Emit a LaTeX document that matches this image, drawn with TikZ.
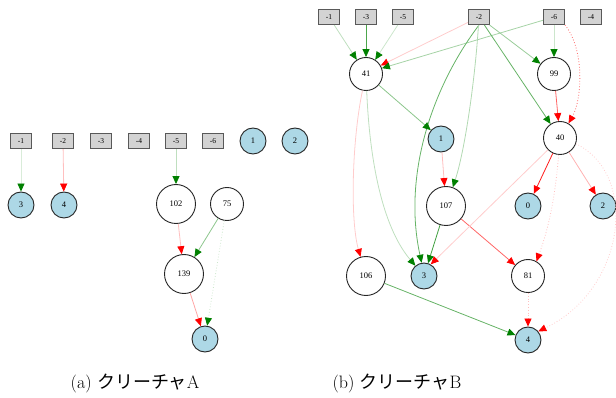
\documentclass[tikz,border=0pt]{standalone}
\usepackage{fontspec}
\newfontfamily\numfont{Liberation Serif}
\newfontfamily\cjk{Noto Sans CJK JP}
\usetikzlibrary{arrows.meta}
\definecolor{gvgreen}{HTML}{008000}
\definecolor{gvred}{HTML}{FF0000}
\definecolor{lblue}{HTML}{ADD8E6}
\definecolor{lgray}{HTML}{D3D3D3}
\tikzset{
  inbox/.style={draw=black!65, line width=1.1pt, fill=lgray, minimum width=21pt,
    minimum height=15pt, inner sep=0pt, font=\numfont\fontsize{7.5}{7.5}\selectfont},
  outnode/.style={circle, draw=black!85, line width=0.9pt, fill=lblue, minimum size=26pt,
    inner sep=0pt, font=\numfont\fontsize{8.5}{8.5}\selectfont},
  hidnode/.style={circle, draw=black!85, line width=0.9pt, fill=white, minimum size=#1,
    inner sep=0pt, font=\numfont\fontsize{8.5}{8.5}\selectfont},
  hidnode/.default=33pt,
  posedge/.style={draw=gvgreen!#1, line width=0.8pt, -{Triangle[length=8pt,width=7pt,color=gvgreen]}},
  negedge/.style={draw=gvred!#1, line width=0.8pt, -{Triangle[length=8pt,width=7pt,color=gvred]}},
  captext/.style={font=\fontsize{18}{20}\selectfont, anchor=center}
}
\begin{document}
\begin{tikzpicture}[x=1pt,y=-1pt]
\useasboundingbox (0,0) rectangle (616,398);

% ---------- creature A ----------
\node[inbox] (a1) at (21,141) {-1};
\node[inbox] (a2) at (63,141) {-2};
\node[inbox] (a3) at (101,141) {-3};
\node[inbox] (a4) at (139,141) {-4};
\node[inbox] (a5) at (176,141) {-5};
\node[inbox] (a6) at (213,141) {-6};
\node[outnode] (ao1) at (253,141) {1};
\node[outnode] (ao2) at (295,141) {2};
\node[outnode] (ao3) at (21,205) {3};
\node[outnode] (ao4) at (64,205) {4};
\node[hidnode=39pt] (a102) at (176,204) {102};
\node[hidnode] (a75) at (227,204) {75};
\node[hidnode=39pt] (a139) at (184,274) {139};
\node[outnode] (ao0) at (205,339) {0};

\draw[posedge=15] (a1) -- (ao3);
\draw[negedge=25] (a2) -- (ao4);
\draw[posedge=25] (a5) -- (a102);
\draw[negedge=25] (a102) -- (a139);
\draw[posedge=45] (a75) -- (a139);
\draw[posedge=20, dotted] (a75) -- (ao0);
\draw[negedge=35] (a139) -- (ao0);

% ---------- creature B ----------
\node[inbox] (b1) at (329,17) {-1};
\node[inbox] (b3) at (366,17) {-3};
\node[inbox] (b5) at (403,17) {-5};
\node[inbox] (b2) at (479,17) {-2};
\node[inbox] (b6) at (554,17) {-6};
\node[inbox] (b4) at (591,17) {-4};
\node[hidnode] (b41) at (366,74) {41};
\node[hidnode] (b99) at (554,74) {99};
\node[outnode] (bo1) at (441,139) {1};
\node[hidnode] (b40) at (560,138) {40};
\node[hidnode=39pt] (b107) at (446,206) {107};
\node[outnode] (bo0) at (528,206) {0};
\node[outnode] (bo2) at (603,206) {2};
\node[hidnode=39pt] (b106) at (366,276) {106};
\node[outnode] (bo3) at (424,276) {3};
\node[hidnode] (b81) at (528,276) {81};
\node[outnode] (bo4) at (528,340) {4};

\draw[posedge=25] (b1) -- (b41);
\draw[posedge=70] (b3) -- (b41);
\draw[posedge=20] (b5) -- (b41);
\draw[negedge=20] (b2) -- (b41.30);
\draw[posedge=35] (b6) -- (b41.20);
\draw[posedge=20] (b6) -- (b99);
\draw[negedge=60, dotted] (b6.south east) .. controls (585,50) and (582,100) .. (b40.60);
\draw[posedge=40] (b2) -- (b99);
\draw[posedge=60] (b2) -- (b40);
\draw[posedge=60] (b2.south) .. controls (430,90) and (403,178) .. (bo3.100);
\draw[posedge=30] (b2) .. controls (475,80) and (465,150) .. (b107.70);
\draw[negedge=60] (b99) -- (b40);
\draw[posedge=45] (b41) -- (bo1);
\draw[negedge=20] (b41) .. controls (352,140) and (350,220) .. (b106);
\draw[posedge=25] (b41) .. controls (370,170) and (385,230) .. (bo3.130);
\draw[negedge=25] (bo1) -- (b107);
\draw[posedge=75] (b107) -- (bo3);
\draw[negedge=60] (b107) -- (b81);
\draw[negedge=20] (b40) -- (bo3.60);
\draw[negedge=90] (b40) -- (bo0);
\draw[negedge=30] (b40) -- (bo2);
\draw[negedge=25, dotted] (b40) .. controls (555,200) and (548,230) .. (b81.60);
\draw[negedge=20, dotted] (b40.-20) .. controls (640,175) and (625,290) .. (bo4.40);
\draw[negedge=25, dotted] (b81) -- (bo4);
\draw[posedge=60] (b106) -- (bo4);

% ---------- captions ----------
\node[captext] (capa) at (135,383) {(a) {\cjk クリーチャ}A};
\node[captext] (capb) at (397,383) {(b) {\cjk クリーチャ}B};
\end{tikzpicture}
\end{document}
